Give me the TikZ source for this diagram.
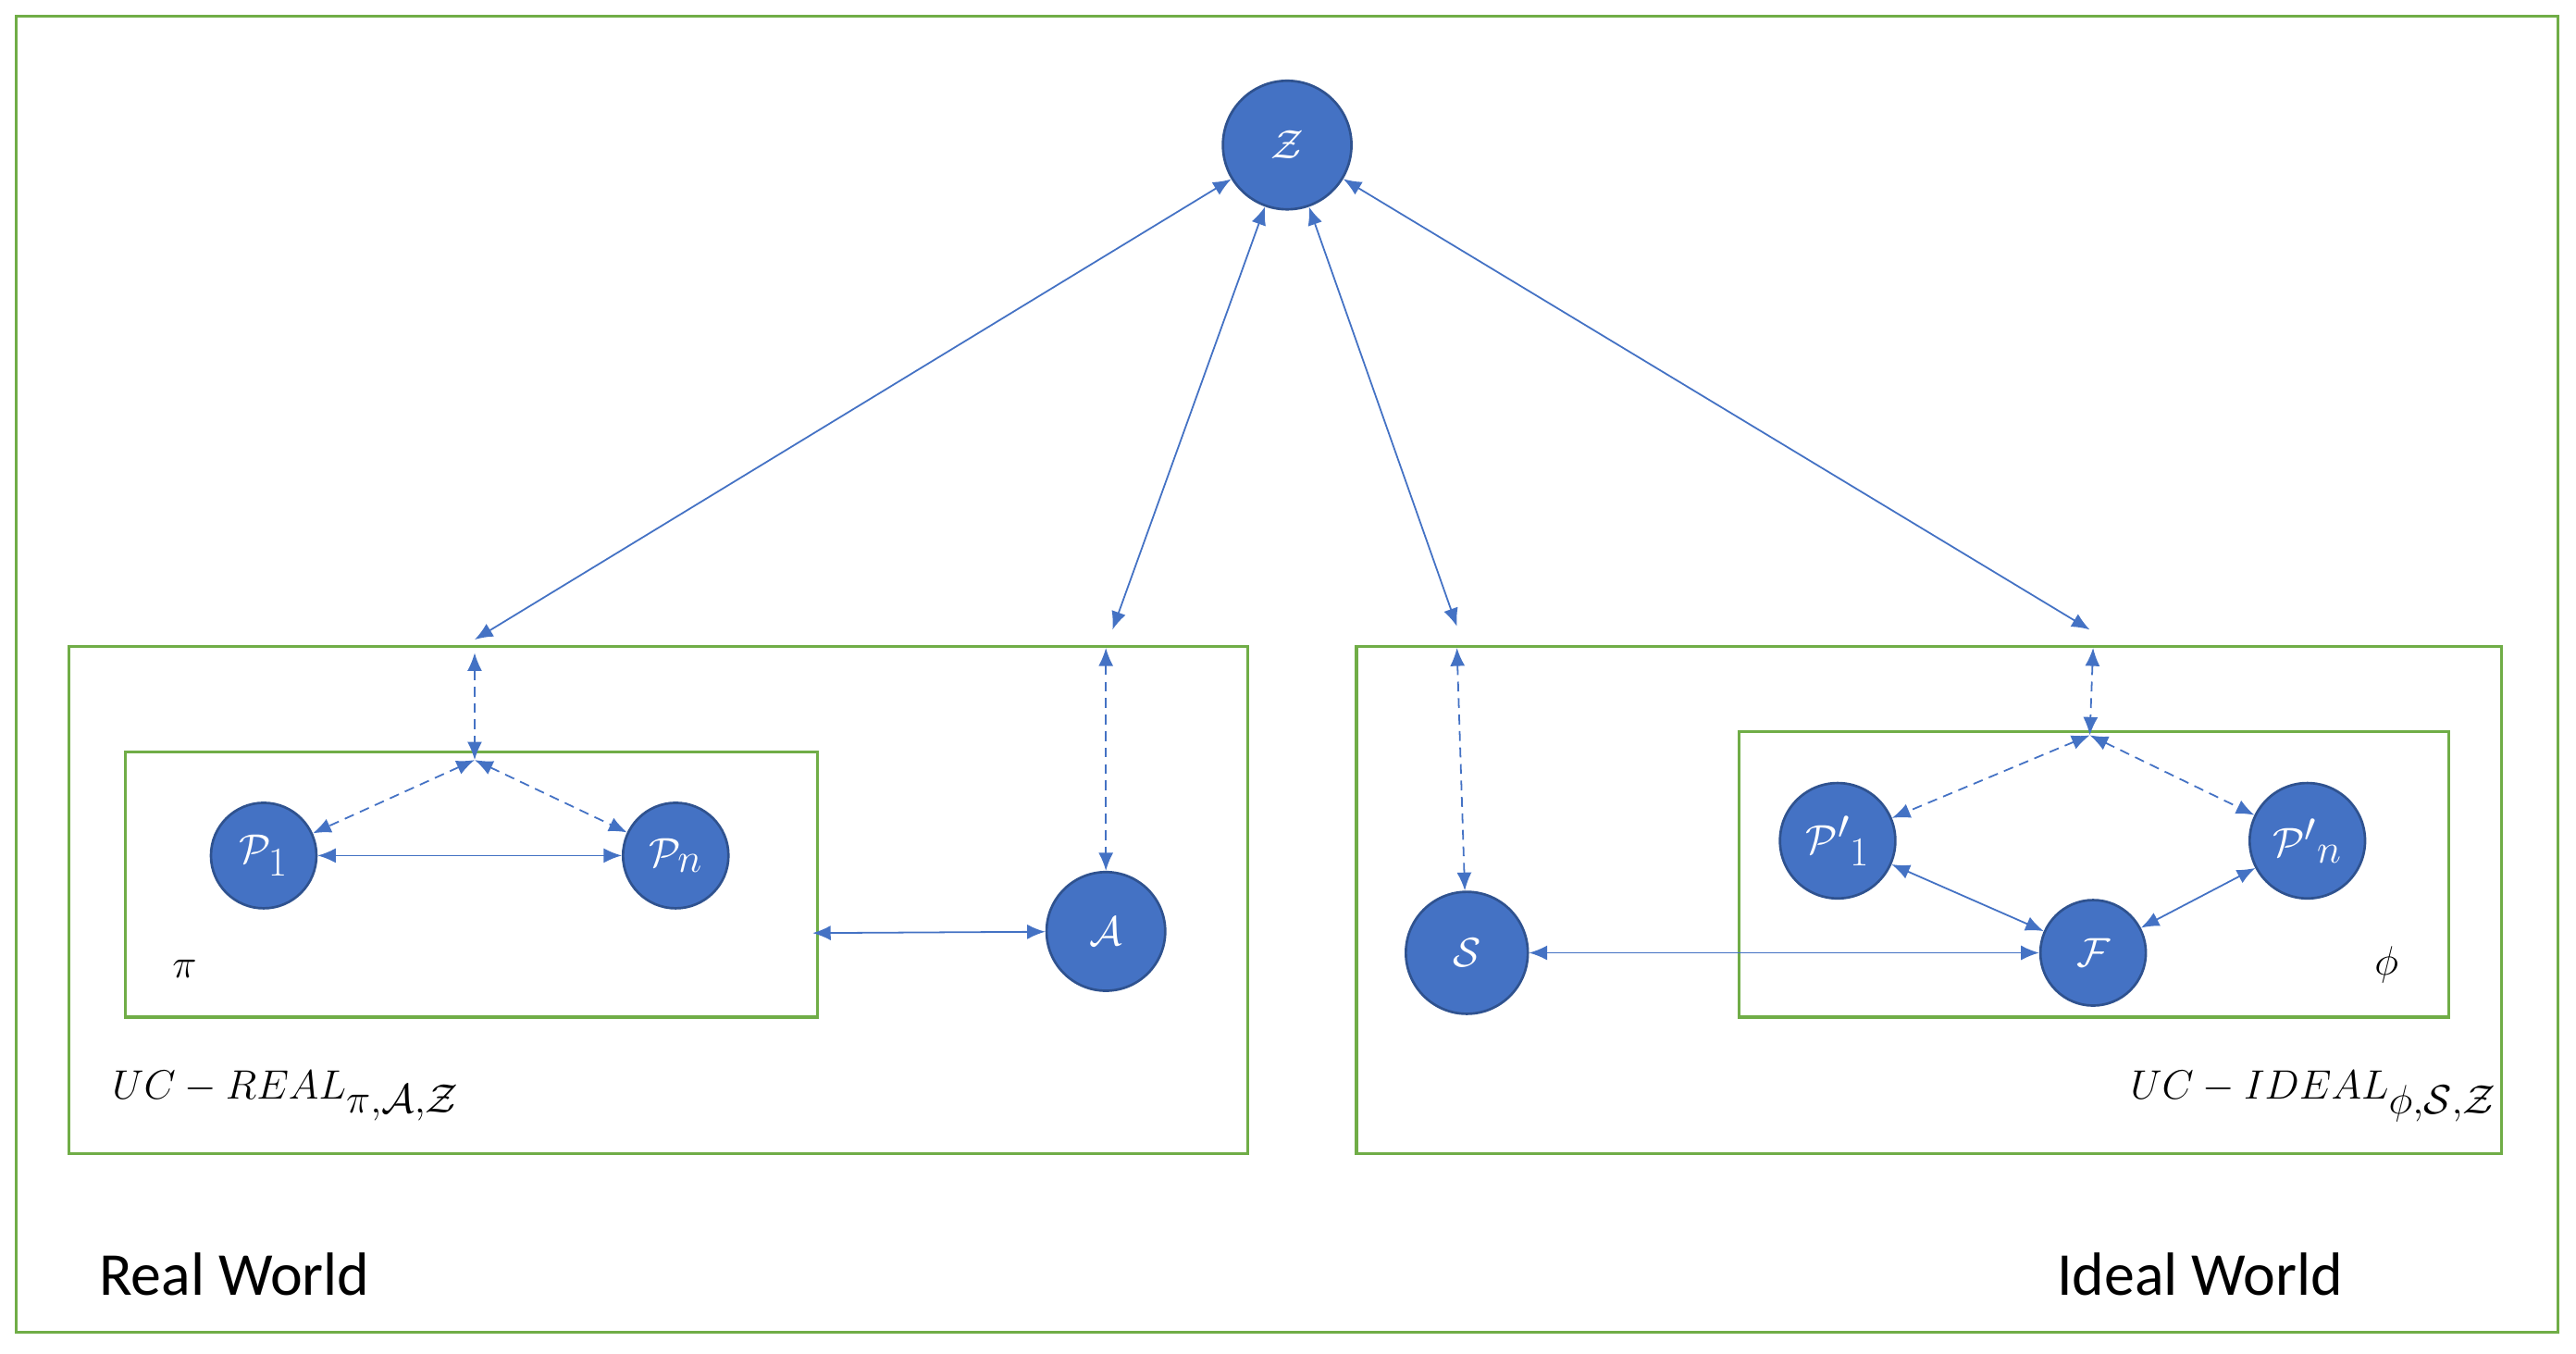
\documentclass[tikz,border=0pt]{standalone}
\usepackage{fontspec}
\newfontfamily\carl{Carlito}
\usetikzlibrary{arrows.meta}
\definecolor{bl}{HTML}{4472C4}
\definecolor{bd}{HTML}{2F528F}
\definecolor{gr}{HTML}{70AD47}
\begin{document}
\begin{tikzpicture}[x=1pt,y=-1pt,
 box/.style={draw=gr,line width=1.8pt},
 pt/.style={circle,fill=bl,draw=bd,line width=1.5pt,text=white,inner sep=0pt,minimum size=#1,font=\fontsize{34}{38}\selectfont},
 pt/.default=64pt,
 con/.style={draw=bl,line width=1pt,{Latex[length=11pt,width=9pt]}-{Latex[length=11pt,width=9pt]}},
 dcon/.style={con,dash pattern=on 6pt off 4pt},
 lab/.style={font=\fontsize{38}{42}\selectfont,inner sep=0pt}]
\useasboundingbox (0,0) rectangle (1563,821);
\draw[box] (10,10) rectangle (1552,808);
\draw[box] (42,392) rectangle (757,700);
\draw[box] (76,456) rectangle (496,617);
\draw[box] (823,392) rectangle (1518,700);
\draw[box] (1055,444) rectangle (1486,617);
\node[pt=78pt] (Z) at (781,88) {$\mathcal{Z}$};
\node[pt] (P1) at (160,519) {$\mathcal{P}_1$};
\node[pt] (Pn) at (410,519) {$\mathcal{P}_n$};
\node[pt=72pt] (A) at (671,565) {$\mathcal{A}$};
\node[pt=74pt] (S) at (890,578) {$\mathcal{S}$};
\node[pt=70pt] (Q1) at (1115,510) {$\mathcal{P}'{}_1$};
\node[pt=70pt] (Qn) at (1400,510) {$\mathcal{P}'{}_n$};
\node[pt] (F) at (1270,578) {$\mathcal{F}$};
\coordinate (a1) at (288,388); \coordinate (a2) at (288,396); \coordinate (a3) at (288,461);
\coordinate (b1) at (675,382); \coordinate (b2) at (671,393);
\coordinate (c1) at (884,380); \coordinate (c2) at (884,393);
\coordinate (d1) at (1268,382); \coordinate (d2) at (1270,393); \coordinate (d3) at (1268,446);
\coordinate (e) at (493,566);
\draw[con] (Z) -- (a1);
\draw[con] (Z) -- (b1);
\draw[con] (Z) -- (c1);
\draw[con] (Z) -- (d1);
\draw[dcon] (a2) -- (a3);
\draw[dcon] (b2) -- (A);
\draw[dcon] (c2) -- (S);
\draw[dcon] (d2) -- (d3);
\draw[dcon] (a3) -- (P1);
\draw[dcon] (a3) -- (Pn);
\draw[dcon] (d3) -- (Q1);
\draw[dcon] (d3) -- (Qn);
\draw[con] (P1) -- (Pn);
\draw[con] (e) -- (A);
\draw[con] (Q1) -- (F);
\draw[con] (Qn) -- (F);
\draw[con] (S) -- (F);
\node[lab] (pi) at (112,588) {$\pi$};
\node[lab] (phi) at (1448,585) {$\phi$};
\node[lab,anchor=west] (ur) at (68,665) {$UC-REAL_{\pi,\mathcal{A},\mathcal{Z}}$};
\node[lab,anchor=east] (ui) at (1515,665) {$UC-IDEAL_{\phi,\mathcal{S},\mathcal{Z}}$};
\node[font=\carl\fontsize{37}{40}\selectfont,anchor=west,inner sep=0pt] (rw) at (60,773) {Real World};
\node[font=\carl\fontsize{37}{40}\selectfont,anchor=west,inner sep=0pt] (iw) at (1248,773) {Ideal World};
\end{tikzpicture}
\end{document}
